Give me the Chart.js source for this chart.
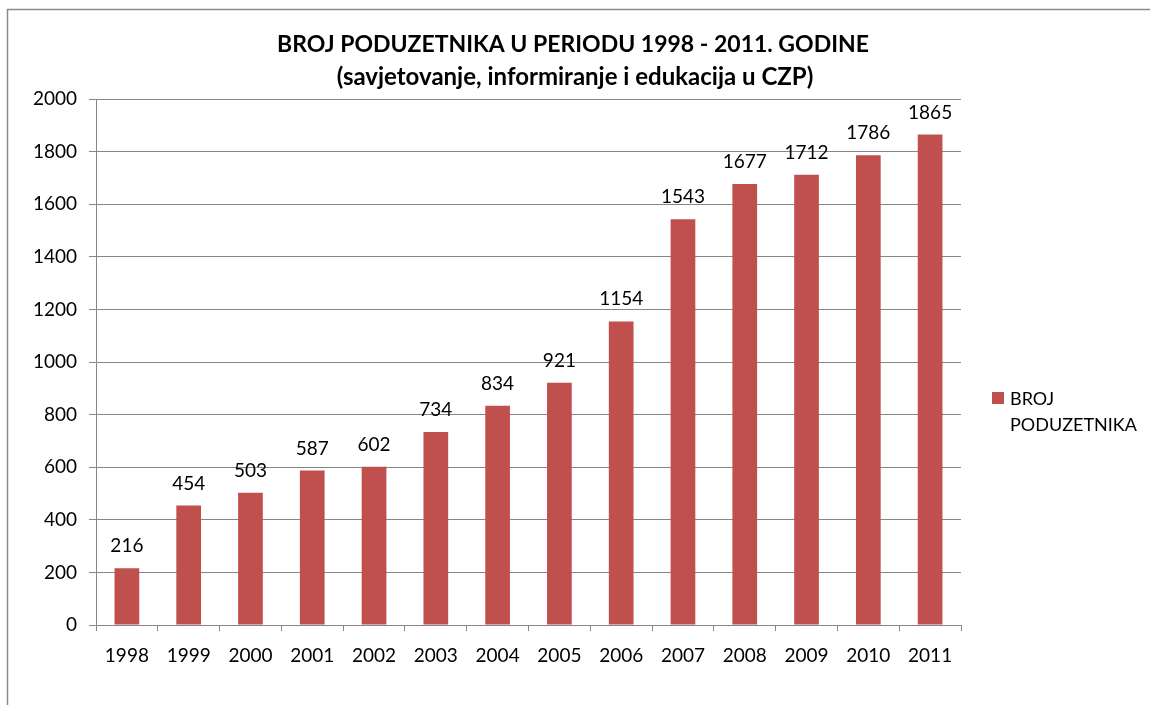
<!DOCTYPE html>
<html>
<head>
<meta charset="utf-8">
<script src="https://cdn.jsdelivr.net/npm/chart.js@4.4.0/dist/chart.umd.min.js"></script>
<style>
html,body{margin:0;padding:0;background:#fff;}
#wrap{width:1150px;height:705px;position:relative;}
</style>
</head>
<body>
<div id="wrap"><canvas id="c" width="1150" height="705"></canvas></div>
<script>
const years = ['1998','1999','2000','2001','2002','2003','2004','2005','2006','2007','2008','2009','2010','2011'];
const poduzetnici = [216,454,503,587,602,734,834,921,1154,1543,1677,1712,1786,1865];
const seriesName = 'BROJ PODUZETNIKA';
const titleLines = ['BROJ PODUZETNIKA U PERIODU 1998 - 2011. GODINE','(savjetovanje, informiranje i edukacija u CZP)'];
const yMin = 0, yMax = 2000, yStep = 200;

const FONT = 'Lato, "Open Sans", sans-serif';
const GRID = '#868686';
const BAR = '#C0504D';

const decor = {
  id: 'decor',
  beforeDraw(chart) {
    const ctx = chart.ctx;
    ctx.save();
    ctx.fillStyle = '#fff';
    ctx.fillRect(0,0,chart.width,chart.height);
    ctx.strokeStyle = '#8a8a8a';
    ctx.lineWidth = 1.5;
    ctx.strokeRect(7.5, 9.5, chart.width + 20, chart.height + 20);
    ctx.restore();
  },
  afterDraw(chart) {
    const ctx = chart.ctx;
    ctx.save();
    // title
    ctx.fillStyle = '#000';
    ctx.textAlign = 'center';
    ctx.textBaseline = 'middle';
    ctx.font = 'bold 23px ' + FONT;
    ctx.fillText(titleLines[0], 573, 45);
    ctx.font = 'bold 24px ' + FONT;
    ctx.fillText(titleLines[1], 575, 77);
    // data labels
    const meta = chart.getDatasetMeta(0);
    ctx.font = '19px ' + FONT;
    ctx.textBaseline = 'alphabetic';
    meta.data.forEach((bar, i) => {
      ctx.fillText(String(chart.data.datasets[0].data[i]), bar.x, bar.y - 16);
    });
    // legend
    const ds = chart.data.datasets[0];
    ctx.fillStyle = ds.backgroundColor;
    ctx.fillRect(992, 392, 12, 12);
    ctx.fillStyle = '#000';
    ctx.textAlign = 'left';
    ctx.textBaseline = 'middle';
    ctx.font = '18px ' + FONT;
    const words = ds.label.split(' ');
    words.forEach((w, i) => ctx.fillText(w, 1010, 399 + i * 26));
    ctx.restore();
  }
};

new Chart(document.getElementById('c'), {
  type: 'bar',
  data: {
    labels: years,
    datasets: [{
      label: seriesName,
      data: poduzetnici,
      backgroundColor: BAR,
      barPercentage: 0.4,
      categoryPercentage: 1.0
    }]
  },
  options: {
    responsive: false,
    animation: false,
    devicePixelRatio: 1,
    layout: { padding: { left: 0, top: 99, right: 189, bottom: 0 } },
    plugins: { legend: { display: false }, title: { display: false }, tooltip: { enabled: false } },
    scales: {
      x: {
        grid: { display: true, drawOnChartArea: false, offset: true, color: GRID, tickLength: 6, tickColor: GRID },
        border: { display: true, color: GRID, width: 1 },
        ticks: { color: '#000', font: { family: FONT, size: 19 }, padding: 13, maxRotation: 0 },
        afterFit(s) { s.height = 80; }
      },
      y: {
        min: yMin, max: yMax,
        grid: { color: GRID, tickLength: 7, tickColor: GRID },
        border: { display: true, color: GRID, width: 1 },
        ticks: { stepSize: yStep, color: '#000', font: { family: FONT, size: 19 }, padding: 12,
                 callback: (v) => String(v) },
        afterFit(s) { s.width = 96; }
      }
    }
  },
  plugins: [decor]
});
</script>
</body>
</html>
